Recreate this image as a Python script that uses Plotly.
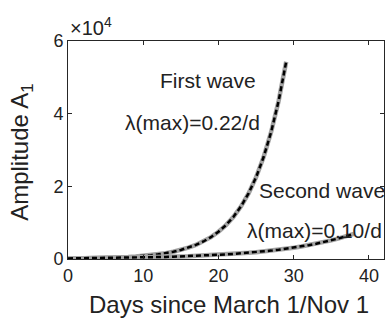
import plotly.graph_objects as go

days_first = list(range(0, 30))
amp_first = [92, 115, 143, 178, 222, 276, 344, 429, 535, 666, 830, 1035, 1289, 1607,
             2002, 2495, 3109, 3874, 4827, 6015, 7495, 9339, 11637, 14501, 18069,
             22516, 28057, 34961, 43564, 54284]
days_second = list(range(0, 39))
amp_second = [155, 171, 189, 209, 231, 256, 282, 312, 345, 381, 421, 466, 515, 569, 629,
              695, 768, 848, 938, 1036, 1145, 1266, 1399, 1546, 1709, 1888, 2087, 2306,
              2549, 2817, 3113, 3441, 3803, 4203, 4645, 5133, 5673, 6270, 6929]
x_ticks = [0, 10, 20, 30, 40]
y_ticks = [0, 20000, 40000, 60000]
y_ticktext = ["0", "2", "4", "6"]

FONT = "Liberation Sans, Arial, sans-serif"
TXT = "#222222"
AX = "#262626"

fig = go.Figure()
for xs, ys in [(days_first, amp_first), (days_second, amp_second)]:
    fig.add_trace(go.Scatter(x=xs, y=ys, mode="lines",
                             line=dict(color="#a3a3a3", width=4.5), hoverinfo="skip"))
    fig.add_trace(go.Scatter(x=xs, y=ys, mode="lines",
                             line=dict(color="#000000", width=2.5, dash="5px,3px"),
                             hoverinfo="skip"))

fig.update_layout(
    width=388, height=320,
    margin=dict(l=68, r=4, t=41, b=61),
    paper_bgcolor="white", plot_bgcolor="white",
    showlegend=False,
    font=dict(family=FONT, color=TXT, size=17),
)
fig.update_xaxes(range=[0, 42], tickvals=x_ticks, ticks="inside", ticklen=4,
                 tickcolor=AX, showline=True, linecolor=AX, linewidth=1, mirror="ticks",
                 showgrid=False, zeroline=False, tickfont=dict(size=18, color=TXT))
fig.update_yaxes(range=[0, 60000], tickvals=y_ticks, ticktext=y_ticktext, ticks="inside",
                 ticklen=4, tickcolor=AX, showline=True, linecolor=AX, linewidth=1,
                 mirror="ticks", showgrid=False, zeroline=False,
                 tickfont=dict(size=18, color=TXT))

anns = [
    dict(text="Days since March 1/Nov 1", xref="paper", yref="paper", x=0.511, y=-0.211,
         font=dict(size=24)),
    dict(text="Amplitude A<sub>1</sub>", xref="paper", yref="paper", x=-0.146, y=0.491,
         textangle=-90, font=dict(size=24)),
    dict(text="×10<sup>4</sup>", xref="paper", yref="paper", x=0.0, y=1.0,
         xanchor="left", yanchor="bottom", font=dict(size=20)),
    dict(text="First wave", x=18.6, y=49266, font=dict(size=21)),
    dict(text="λ(max)=0.22/d", x=16.6, y=37706, font=dict(size=21)),
    dict(text="Second wave", x=33.76, y=18990, font=dict(size=21)),
    dict(text="λ(max)=0.10/d", x=32.76, y=7982, font=dict(size=21)),
]
for a in anns:
    a.setdefault("xanchor", "center")
    a.setdefault("yanchor", "middle")
    a["showarrow"] = False
    fig.add_annotation(**a)

fig.write_html("out.html")
